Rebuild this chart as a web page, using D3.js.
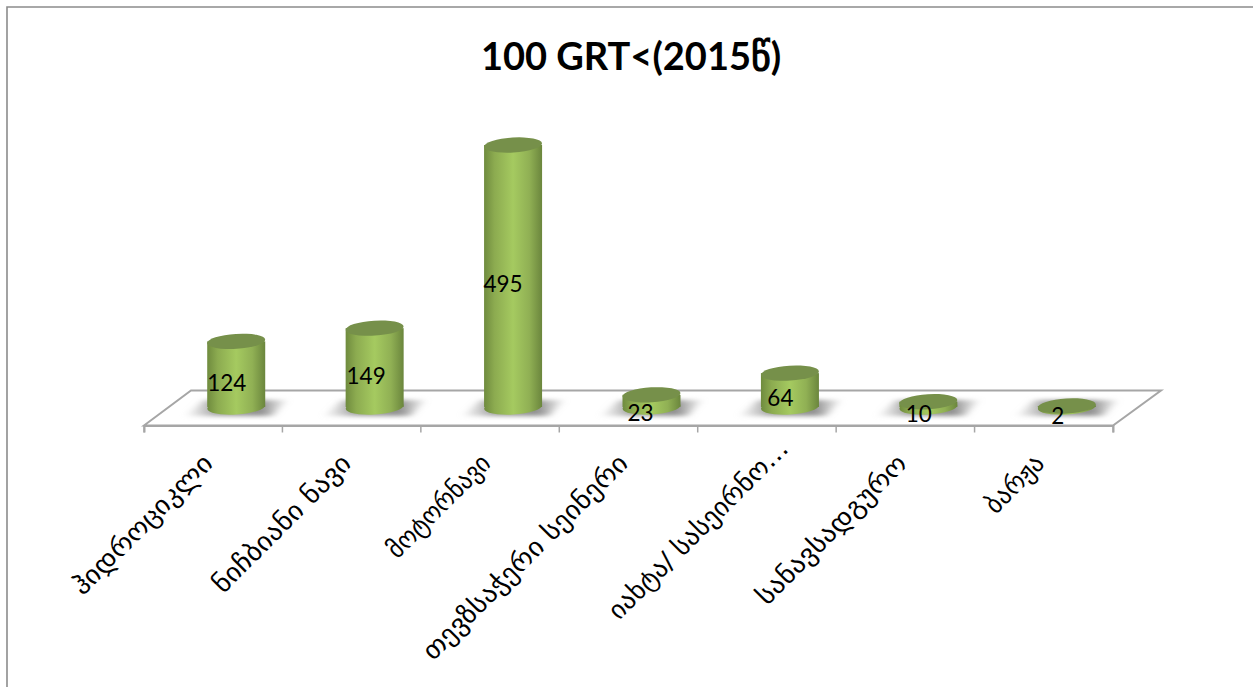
<!DOCTYPE html>
<html><head><meta charset="utf-8">
<script src="https://cdn.jsdelivr.net/npm/d3@7/dist/d3.min.js"></script>
<style>html,body{margin:0;padding:0;background:#fff;overflow:hidden}svg{display:block}</style>
</head><body><svg id="c" width="1253" height="687"></svg>
<script>
const titleText = "100 GRT<(2015წ)";
const categories = ["ჰიდროციკლი","ნიჩბიანი ნავი","მოტორნავი","თევზსაჭერი სეინერი","იახტა/ სასეირნო…","სანავსადგურო","ბარჟა"];
const values = [124,149,495,23,64,10,2];
// label layout, not data
const labelEndDx = [1,1,2,1,23,3,2];
const labelEndY = [465,465,465,465,450,465,465];
const labelLen = [186,183,134,278,242,200,71];

const svg = d3.select("#c");
const defs = svg.append("defs");
const grad = defs.append("linearGradient").attr("id","body");
[[0,"#6f8b3e"],[0.18,"#8cab50"],[0.5,"#a5ca60"],[0.78,"#90b054"],[1,"#6b863d"]].forEach(d=>grad.append("stop").attr("offset",d[0]).attr("stop-color",d[1]));
const f = defs.append("filter").attr("id","blur").attr("x","-30%").attr("y","-60%").attr("width","160%").attr("height","220%");
f.append("feGaussianBlur").attr("stdDeviation","4 2");
const sg = defs.append("linearGradient").attr("id","shadow");
[[0,"#c0c0c0",0.15],[0.3,"#a0a0a0",1],[0.75,"#8f8f8f",1],[1,"#b0b0b0",0.25]].forEach(d=>sg.append("stop").attr("offset",d[0]).attr("stop-color",d[1]).attr("stop-opacity",d[2]));

// frame
svg.append("path").attr("d","M7,687V7H1253").attr("fill","none").attr("stroke","#8c8c8c").attr("stroke-width",1.6);

const frontL=144, frontR=1113, frontY=425.5, depthX=47, depthY=-35, baseY=407;
const x = d3.scaleBand().domain(categories).range([frontL,frontR]);
const y = d3.scaleLinear().domain([0,495]).range([baseY,145]);
const cylOff = 23, rx = 29, ry = 7.5, tilt = -3.5;
const mid = c => x(c)+x.bandwidth()/2;

// floor
svg.append("path").attr("fill","#fff").attr("stroke","#a6a6a6").attr("stroke-width",2)
  .attr("d",d3.line()([[frontL,frontY],[frontL+depthX,frontY+depthY],[frontR+depthX+1,frontY+depthY],[frontR,frontY]])+"Z");

// axis
const ag = svg.append("g").attr("transform",`translate(0,${frontY})`);
ag.call(d3.axisBottom(x).tickFormat("").tickSizeOuter(7));
ag.selectAll(".tick").remove();
ag.select(".domain").attr("stroke","#a6a6a6").attr("stroke-width",2);
ag.selectAll("line.t").data(categories.map(c=>x(c)).concat(frontR)).join("line").attr("class","t")
  .attr("x1",d=>d).attr("x2",d=>d).attr("y1",0).attr("y2",7).attr("stroke","#a6a6a6").attr("stroke-width",1.5);

// title: Latin run in Lato, Georgian run in regular DejaVu thickened with a stroke
const title = svg.append("text").attr("x",631).attr("y",70).attr("text-anchor","middle")
  .attr("font-family","Lato").attr("font-weight",700).attr("font-size",38).attr("fill","#000");
titleText.split(/([\u10A0-\u10FF]+)/).filter(s=>s).forEach(s=>{
  const t = title.append("tspan").text(s);
  if(/[\u10A0-\u10FF]/.test(s)) t.attr("font-family","'DejaVu Sans'").attr("font-weight",400).attr("font-size",38)
    .attr("stroke","#000").attr("stroke-width",1.2);
});

// shadows
svg.append("g").selectAll("path").data(categories).join("path")
  .attr("fill","url(#shadow)").attr("filter","url(#blur)")
  .attr("d",c=>{const m=mid(c)+cylOff;return d3.line()([[m-50,baseY+9],[m+36,baseY+9],[m+50,baseY-7],[m-32,baseY-7]])+"Z";});

// cylinders
const g = svg.append("g").selectAll("g").data(categories.map((c,i)=>({c,v:values[i]}))).join("g")
  .attr("transform",d=>`translate(${mid(d.c)+cylOff},0)`);
g.append("ellipse").attr("cx",0).attr("cy",baseY).attr("rx",rx).attr("ry",ry)
  .attr("transform",`rotate(${tilt} 0 ${baseY})`).attr("fill","url(#body)");
g.append("rect").attr("x",-rx).attr("width",2*rx).attr("y",d=>y(d.v)).attr("height",d=>baseY-y(d.v)).attr("fill","url(#body)");
g.append("ellipse").attr("cx",0).attr("cy",d=>y(d.v)).attr("rx",rx).attr("ry",ry)
  .attr("transform",d=>`rotate(${tilt} 0 ${y(d.v)})`).attr("fill","#76904a");

// value labels
const lblDx=[-9.5,-8.5,-10,-11,-9.5,-9.5,-9], lblBase=[391,384,292,421,406,422,424];
svg.append("g").selectAll("text").data(values).join("text")
  .attr("x",(d,i)=>mid(categories[i])+cylOff+lblDx[i]).attr("y",(d,i)=>lblBase[i])
  .attr("text-anchor","middle").attr("font-family","Lato").attr("font-size",22.5).attr("fill","#000").text(d=>d);

// category labels
svg.append("g").selectAll("text").data(categories).join("text")
  .attr("text-anchor","end").attr("font-family","'DejaVu Sans'").attr("font-size",26).attr("fill","#000")
  .attr("textLength",(c,i)=>labelLen[i]).attr("lengthAdjust","spacingAndGlyphs")
  .attr("transform",(c,i)=>`translate(${mid(c)+labelEndDx[i]},${labelEndY[i]}) rotate(-45)`).text(c=>c);
</script></body></html>
